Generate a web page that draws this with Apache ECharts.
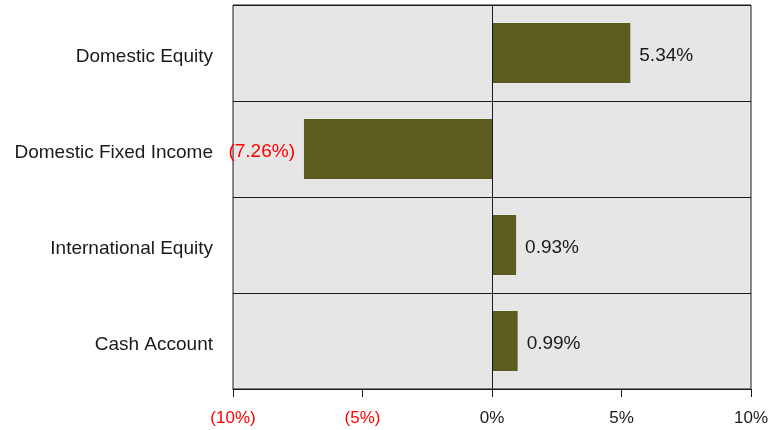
<!DOCTYPE html>
<html>
<head>
<meta charset="utf-8">
<script src="https://cdn.jsdelivr.net/npm/echarts@6/dist/echarts.min.js"></script>
<style>
  html, body { margin: 0; padding: 0; background: #fff; }
  #chart { width: 772px; height: 430px; }
</style>
</head>
<body>
<div id="chart"></div>
<script>
const categories = ["Domestic Equity", "Domestic Fixed Income", "International Equity", "Cash Account"];
const returns = [5.34, -7.26, 0.93, 0.99];
const tickValues = [-10, -5, 0, 5, 10];

const fmtPct = (v, digits) => {
  const s = Math.abs(v).toFixed(digits) + "%";
  return v < 0 ? "(" + s + ")" : s;
};

const chart = echarts.init(document.getElementById("chart"));

chart.setOption({
  animation: false,
  textStyle: { fontFamily: "Liberation Sans, Arial, sans-serif" },
  grid: {
    left: 233,
    right: 21,
    top: 5,
    bottom: 41,
    show: true,
    backgroundColor: "#e6e6e6",
    borderColor: "#1a1a1a",
    borderWidth: 1,
  },
  xAxis: {
    type: "value",
    min: tickValues[0],
    max: tickValues[tickValues.length - 1],
    interval: 5,
    axisLine: { show: true, lineStyle: { color: "#1a1a1a" } },
    axisTick: { show: true, length: 8, lineStyle: { color: "#1a1a1a" } },
    splitLine: { show: false },
    axisLabel: {
      fontSize: 17,
      margin: 21,
      formatter: (v) => fmtPct(v, 0),
      color: (v) => (Number(v) < 0 ? "#ff0000" : "#1a1a1a"),
    },
  },
  yAxis: {
    type: "category",
    inverse: true,
    data: categories,
    axisLine: { show: false },
    axisTick: { show: false },
    splitLine: { show: true, lineStyle: { color: "#1a1a1a", width: 1 } },
    axisLabel: {
      margin: 20,
      formatter: (v) => "{c|" + v + "}",
      rich: {
        c: { fontSize: 19, color: "#1a1a1a", padding: [8, 0, 0, 0] },
      },
    },
  },
  series: [
    {
      type: "bar",
      barWidth: "62.5%",
      itemStyle: { color: "#5c5c1f" },
      data: returns.map((v) => ({
        value: v,
        label: {
          show: true,
          position: v < 0 ? "left" : "right",
          distance: 9,
          offset: [0, 3],
          fontSize: 19,
          color: v < 0 ? "#ff0000" : "#1a1a1a",
          formatter: () => fmtPct(v, 2),
        },
      })),
      markLine: {
        silent: true,
        symbol: "none",
        label: { show: false },
        lineStyle: { color: "#1a1a1a", width: 1, type: "solid" },
        data: [{ xAxis: 0 }],
      },
    },
  ],
});
</script>
</body>
</html>
